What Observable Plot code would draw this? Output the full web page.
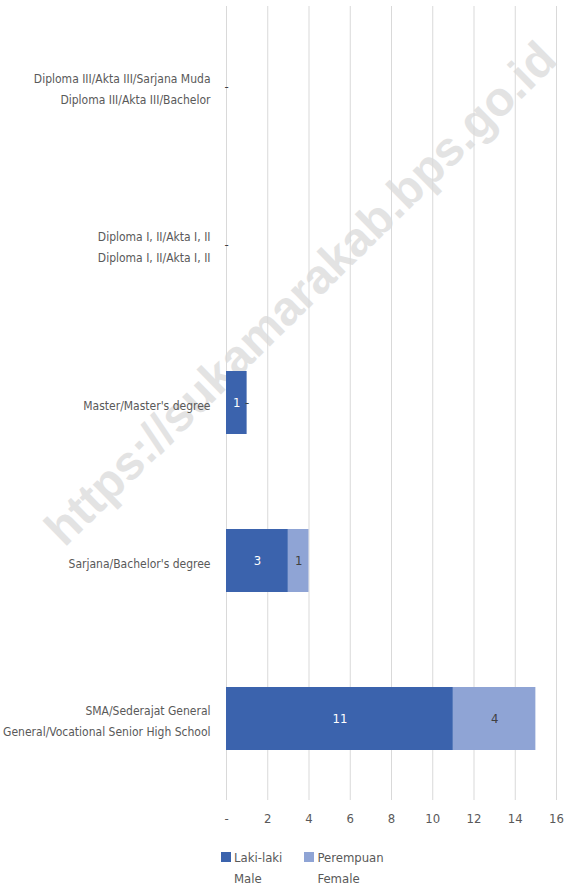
<!DOCTYPE html>
<html><head><meta charset="utf-8">
<script src="https://cdn.jsdelivr.net/npm/d3@7"></script>
<script src="https://cdn.jsdelivr.net/npm/@observablehq/plot@0.6"></script>
<style>
body{margin:0;background:#fff;}
#wrap{position:relative;width:564px;font-family:"DejaVu Sans Condensed","DejaVu Sans",sans-serif;font-stretch:condensed;color:#595959;}
#legend{display:flex;gap:0;padding-left:221px;margin-top:12px;font-size:13px;line-height:21px;}
.item{display:flex;align-items:flex-start;margin-right:22px;}
.sw{width:10px;height:10px;margin-top:5px;margin-right:3px;flex:none;}
</style></head><body>
<div id="wrap"><div id="chart"></div><div id="legend"></div></div>
<script>
const categories = [
  "Diploma III/Akta III/Sarjana Muda\nDiploma III/Akta III/Bachelor",
  "Diploma I, II/Akta I, II\nDiploma I, II/Akta I, II",
  "Master/Master's degree",
  "Sarjana/Bachelor's degree",
  "SMA/Sederajat General\nGeneral/Vocational Senior High School"
];
const male = [0, 0, 1, 3, 11];
const female = [0, 0, 0, 1, 4];
const seriesNames = ["Laki-laki\nMale", "Perempuan\nFemale"];
const seriesColors = ["#3b63ad", "#8fa4d5"];
const labelColors = ["#ffffff", "#404040"];
const xTicks = [0, 2, 4, 6, 8, 10, 12, 14, 16];
const watermark = "https://sukamarakab.bps.go.id";

const data = categories.flatMap((c, i) => [
  {cat: c, s: seriesNames[0], value: male[i]},
  {cat: c, s: seriesNames[1], value: female[i]}
]);
const font = '"DejaVu Sans Condensed","DejaVu Sans",sans-serif';

const svg = Plot.plot({
  width: 564,
  height: 835,
  marginLeft: 226,
  marginRight: 8,
  marginTop: 6,
  marginBottom: 35,
  style: {fontFamily: font, fontStretch: "condensed", fontSize: "13px", color: "#595959", background: "transparent"},
  x: {domain: [0, 16], ticks: xTicks},
  y: {domain: categories, paddingInner: 0.6, paddingOuter: 0.3},
  color: {domain: seriesNames, range: seriesColors},
  marks: [
    Plot.gridX(xTicks, {stroke: "#d9d9d9", strokeOpacity: 1}),
    Plot.barX(data, Plot.stackX({x: "value", y: "cat", fill: "s", order: seriesNames})),
    Plot.text(data, Plot.stackX({
      x: "value", y: "cat", z: "s", order: seriesNames,
      text: d => d.value === 0 ? "-" : String(d.value),
      fill: d => labelColors[seriesNames.indexOf(d.s)],
      fontSize: 13
    })),
    Plot.axisX({ticks: xTicks, tickFormat: d => d === 0 ? "-" : String(d), tickSize: 0, tickPadding: 13, label: null, fontSize: 13, fill: "#595959"}),
    Plot.axisY({tickSize: 0, tickPadding: 16, label: null, fontSize: 12, lineHeight: 1.7, fill: "#595959", textAnchor: "end"})
  ]
});

// watermark behind the bars
const firstG = svg.querySelector("g");
const wm = document.createElementNS("http://www.w3.org/2000/svg", "text");
wm.setAttribute("transform", "translate(303,296) rotate(-44.5)");
wm.setAttribute("text-anchor", "middle");
wm.setAttribute("dominant-baseline", "middle");
wm.setAttribute("fill", "#e3e3e3");
wm.setAttribute("font-weight", "bold");
wm.setAttribute("font-size", "48");
wm.setAttribute("font-family", '"Liberation Sans",Arial,sans-serif');
wm.setAttribute("style", "font-stretch:normal");
wm.textContent = watermark;
svg.insertBefore(wm, firstG);
document.getElementById("chart").appendChild(svg);

const leg = d3.select("#legend");
seriesNames.forEach((n, i) => {
  const it = leg.append("div").attr("class", "item");
  it.append("div").attr("class", "sw").style("background", seriesColors[i]);
  it.append("div").html(n.split("\n").join("<br>"));
});
</script>
</body></html>
